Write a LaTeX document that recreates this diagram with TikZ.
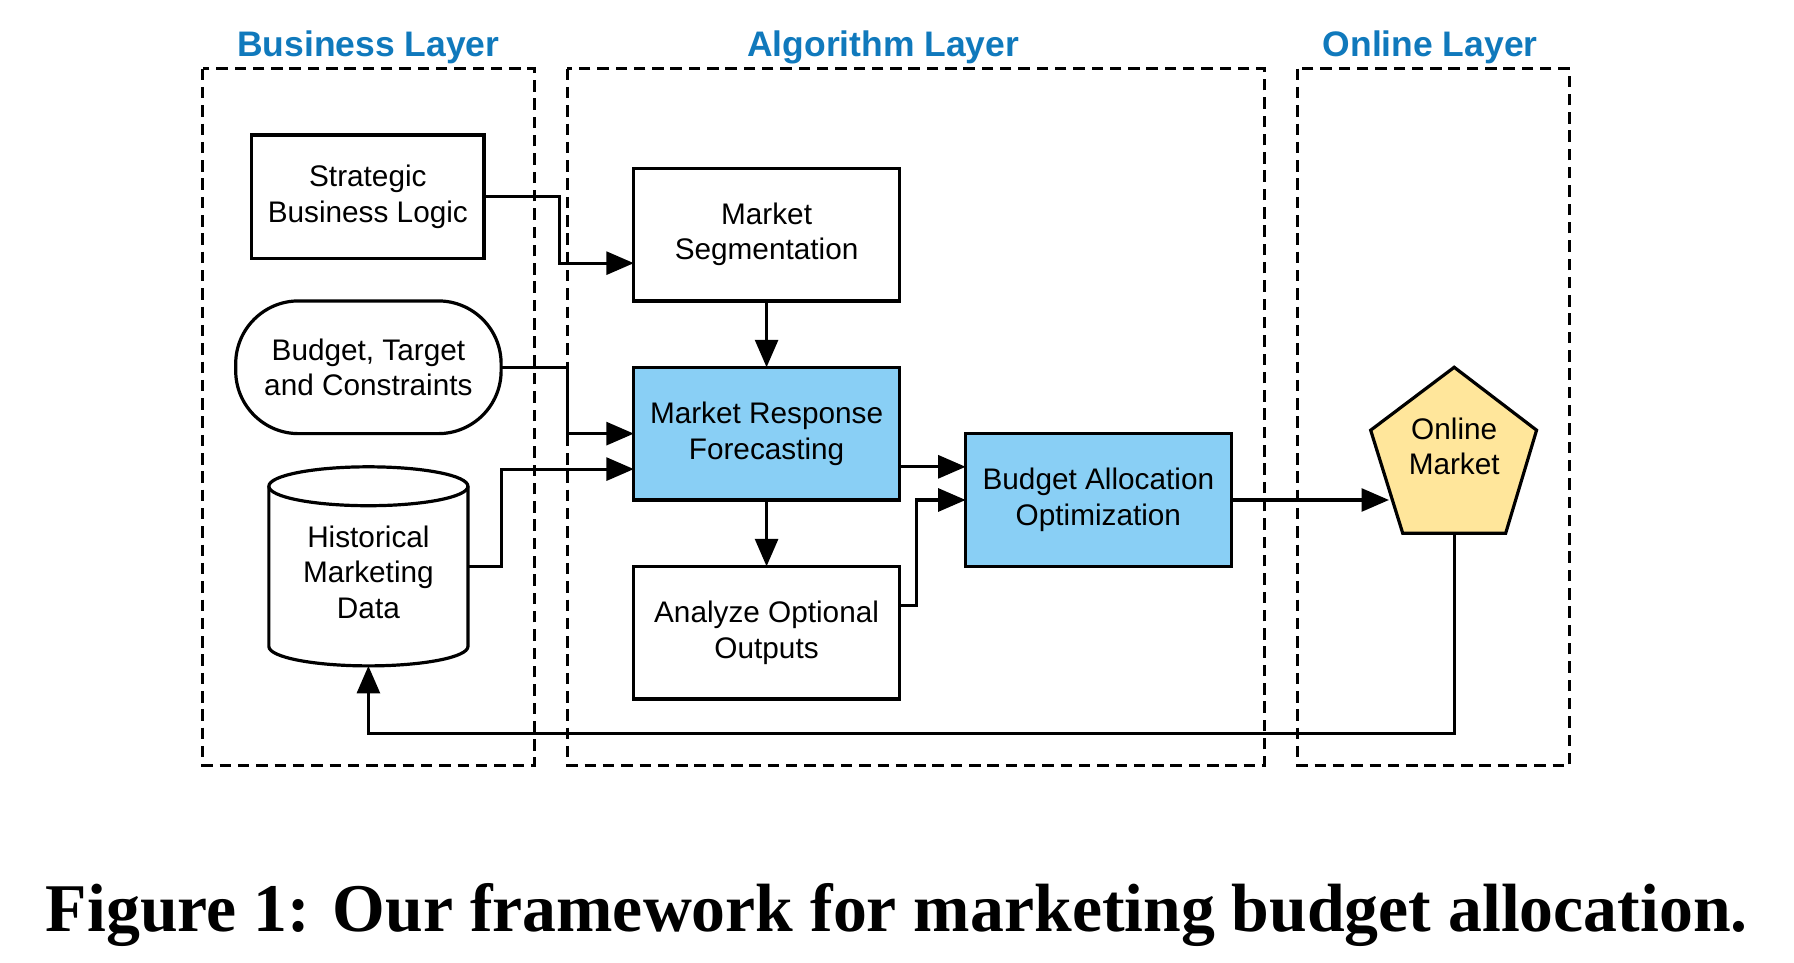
\documentclass[tikz,border=0pt]{standalone}
\usepackage{fontspec}
\setmainfont{Liberation Sans}
\newfontfamily\capfont{Liberation Serif}
\usetikzlibrary{arrows.meta}
\definecolor{titleblue}{RGB}{16,121,188}
\definecolor{boxblue}{RGB}{137,207,245}
\definecolor{penyellow}{RGB}{255,230,155}
\begin{document}
\begin{tikzpicture}[x=1pt,y=-1pt,
  layerbox/.style={draw, line width=3pt, dash pattern=on 10pt off 6pt},
  layertitle/.style={font=\fontsize{31}{36}\selectfont\bfseries, text=titleblue, anchor=base, inner sep=0pt},
  proc/.style={draw, line width=2.8pt, minimum width=232pt, minimum height=116pt, align=center,
    font=\fontsize{26}{31}\selectfont, inner sep=0pt, outer sep=0pt},
  plain/.style={align=center, font=\fontsize{26}{31}\selectfont, inner sep=0pt, outer sep=0pt},
  shapeline/.style={line width=2.8pt},
  conn/.style={line width=2.8pt, -{Triangle[length=24pt,width=20pt]}}]
\useasboundingbox (0,0) rectangle (1568,841);

% layer boxes
\draw[layerbox] (177,60) rectangle (467,669);
\draw[layerbox] (496,60) rectangle (1105,669);
\draw[layerbox] (1134,60) rectangle (1372,669);
\node[layertitle] (tbus) at (322,49) {Business Layer};
\node[layertitle] (talg) at (772,49) {Algorithm Layer};
\node[layertitle] (tonl) at (1250,49) {Online Layer};

% business layer
\node[proc, minimum width=203pt, minimum height=108pt] (sbl) at (321.5,172) {Strategic\\Business Logic};
\node[proc, rounded corners=55pt] (btc) at (322,321) {Budget, Target\\and Constraints};
\draw[shapeline, fill=white] (235,425) -- (235,565) arc[start angle=180, end angle=360, x radius=87pt, y radius=17pt] -- (409,425);
\draw[shapeline] (322,425) ellipse[x radius=87pt, y radius=17pt];
\node[plain, minimum width=174pt, minimum height=120pt] (hist) at (322,500) {Historical\\Marketing\\Data};
\coordinate (histbot) at (322,582);

% algorithm layer
\node[proc] (ms) at (670,205) {Market\\Segmentation};
\node[proc, fill=boxblue] (mrf) at (670,379) {Market Response\\Forecasting};
\node[proc] (aoo) at (670,553) {Analyze Optional\\Outputs};
\node[proc, fill=boxblue] (bao) at (960,437) {Budget Allocation\\Optimization};

% online layer
\draw[shapeline, fill=penyellow, line join=miter] (1271,321) -- (1343,376) -- (1316,466) -- (1226,466) -- (1198,376) -- cycle;
\node[plain] (om) at (1271,390) {Online\\Market};
\coordinate (omleft) at (1214,437);
\coordinate (ombot) at (1271,466);
\coordinate (fb) at (1271,641);

% connectors
\draw[conn] (sbl.east) -- ++(66,0) |- ([yshift=-25pt]ms.west);
\draw[conn] (btc.east) -- ++(58,0) |- (mrf.west);
\draw[conn] ([yshift=5pt]hist.east) -- ++(29,0) |- ([yshift=-31pt]mrf.west);
\draw[conn] (ms.south) -- (mrf.north);
\draw[conn] (mrf.south) -- (aoo.north);
\coordinate (p1) at ([yshift=-29pt]mrf.east);
\draw[conn] (p1) -- (p1 -| bao.west);
\draw[conn] ([yshift=24pt]aoo.east) -- ++(15,0) |- (bao.west);
\draw[conn] (bao.east) -- (omleft);
\draw[conn] (ombot) -- (fb) -| (histbot);

% caption
\node[anchor=base west, inner sep=0pt] (cap) at (40,814)
  {\resizebox{1487pt}{42pt}{\capfont\bfseries Figure 1: Our framework for marketing budget allocation.}};
\end{tikzpicture}
\end{document}
